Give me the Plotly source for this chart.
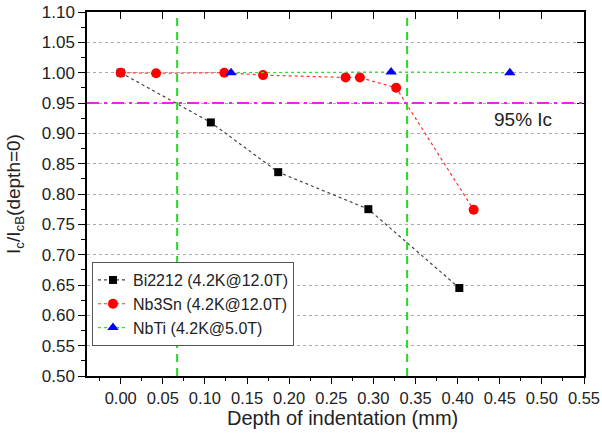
import plotly.graph_objects as go

# Data
bi_x = [0.0, 0.107, 0.187, 0.294, 0.402]
bi_y = [1.000, 0.918, 0.836, 0.775, 0.645]
nb3_x = [0.0, 0.042, 0.123, 0.169, 0.267, 0.284, 0.327, 0.419]
nb3_y = [1.000, 0.999, 1.000, 0.996, 0.992, 0.992, 0.975, 0.774]
nbti_x = [0.131, 0.321, 0.462]
nbti_y = [1.000, 1.001, 1.000]
vlines = [0.067, 0.340]
hline = 0.95
names = ["Bi2212 (4.2K@12.0T)", "Nb3Sn (4.2K@12.0T)", "NbTi (4.2K@5.0T)"]

FONT = "Arial, Liberation Sans, sans-serif"

fig = go.Figure()
fig.add_trace(go.Scatter(x=bi_x, y=bi_y, name=names[0], mode="lines+markers",
                         line=dict(color="#444444", dash="dot", width=1.2),
                         marker=dict(symbol="square", size=8, color="black")))
fig.add_trace(go.Scatter(x=nb3_x, y=nb3_y, name=names[1], mode="lines+markers",
                         line=dict(color="#ff3030", dash="dot", width=1.2),
                         marker=dict(symbol="circle", size=10, color="#ff0000")))
fig.add_trace(go.Scatter(x=nbti_x, y=nbti_y, name=names[2], mode="lines+markers",
                         line=dict(color="#33dd33", dash="dot", width=1.2),
                         marker=dict(symbol="triangle-up", size=10, color="#0000ff")))
# dummy trace for mirrored axes
fig.add_trace(go.Scatter(x=[None], y=[None], xaxis="x2", yaxis="y2",
                         showlegend=False, hoverinfo="skip"))

for v in vlines:
    fig.add_shape(type="line", x0=v, x1=v, xref="x", y0=0, y1=1, yref="paper",
                  line=dict(color="#22dd22", width=2, dash="8px,6px"), layer="above")
fig.add_shape(type="line", x0=0, x1=1, xref="paper", y0=hline, y1=hline, yref="y",
              line=dict(color="#ee22ee", width=2, dash="12px,5px,3px,5px"), layer="above")

fig.add_annotation(x=0.478, y=0.922, text="95% Ic", showarrow=False,
                   font=dict(size=19, color="#222", family=FONT))
fig.add_annotation(x=0.515, y=-0.115, xref="paper", yref="paper",
                   text="Depth of indentation (mm)", showarrow=False,
                   xanchor="center", yanchor="middle",
                   font=dict(size=20, color="#222", family=FONT))

xr = [-0.04, 0.55]
yr = [0.50, 1.10]
fig.update_layout(
    width=602, height=433,
    margin=dict(l=87, r=18, t=12, b=57, autoexpand=False),
    paper_bgcolor="white", plot_bgcolor="white",
    font=dict(family=FONT, size=17, color="#222"),
    xaxis=dict(range=xr, tick0=0, dtick=0.05, tickformat=".2f", automargin=False,
               ticks="outside", ticklen=6, tickwidth=1.2, tickcolor="black",
               minor=dict(dtick=0.025, ticks="outside", ticklen=3, tickcolor="black"),
               showline=True, linecolor="black", linewidth=1.5,
               showgrid=False, zeroline=False, tickfont=dict(size=16.5)),
    yaxis=dict(range=yr, tick0=0.5, dtick=0.05, tickformat=".2f", automargin=False,
               ticks="outside", ticklen=7, tickwidth=1.2, tickcolor="black",
               minor=dict(dtick=0.025, ticks="outside", ticklen=4, tickcolor="black"),
               showline=True, linecolor="black", linewidth=1.5,
               showgrid=True, gridcolor="#aaaaaa", griddash="dot", gridwidth=1,
               zeroline=False, tickfont=dict(size=17),
               title=dict(text="I<sub>c</sub>/I<sub>cB</sub>(depth=0)", standoff=16,
                          font=dict(size=19))),
    xaxis2=dict(range=xr, overlaying="x", side="top", tick0=0, dtick=0.05,
                ticks="inside", ticklen=7, tickwidth=1.2, tickcolor="black",
                showticklabels=False, showline=True, linecolor="black", linewidth=1.5,
                showgrid=False, zeroline=False, automargin=False),
    yaxis2=dict(range=yr, overlaying="y", side="right", tick0=0.5, dtick=0.05,
                ticks="inside", ticklen=7, tickwidth=1.2, tickcolor="black",
                showticklabels=False, showline=True, linecolor="black", linewidth=1.5,
                showgrid=False, zeroline=False, automargin=False),
    legend=dict(x=0.01, y=0.313, xanchor="left", yanchor="top",
                bordercolor="#555555", borderwidth=1, bgcolor="white",
                font=dict(size=16), tracegroupgap=0, itemwidth=30),
    showlegend=True,
)

fig.write_html("out.html")
